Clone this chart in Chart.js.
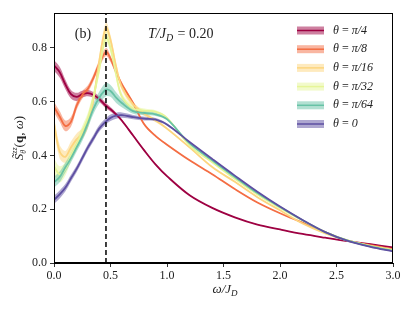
<!DOCTYPE html>
<html><head><meta charset="utf-8">
<script src="https://cdn.jsdelivr.net/npm/chart.js@4"></script>
<style>html,body{margin:0;padding:0;background:#fff}#wrap{width:415px;height:311px}</style>
</head><body><div id="wrap"><canvas id="c" width="415" height="311"></canvas></div>
<script>
const omega = [0,0.05,0.1,0.15,0.2,0.25,0.3,0.35,0.4,0.46,0.5,0.55,0.6,0.7,0.8,0.9,1.0,1.2,1.4,1.6,1.8,2.0,2.2,2.4,2.6,2.8,3.0];
const labels = ["\u03b8 = \u03c0/4","\u03b8 = \u03c0/8","\u03b8 = \u03c0/16","\u03b8 = \u03c0/32","\u03b8 = \u03c0/64","\u03b8 = 0"];
const colors = ["#9e0142","#f46d43","#fdd57e","#e6f598","#66c2a5","#5e4fa2"];
const sPi4  = [0.735,0.71,0.665,0.628,0.618,0.628,0.632,0.625,0.61,0.585,0.572,0.553,0.53,0.474,0.418,0.366,0.323,0.252,0.205,0.17,0.143,0.125,0.108,0.094,0.081,0.07,0.058];
const sPi8  = [0.58,0.545,0.51,0.525,0.585,0.625,0.648,0.69,0.74,0.785,0.76,0.71,0.665,0.595,0.515,0.472,0.44,0.382,0.33,0.275,0.225,0.185,0.15,0.115,0.083,0.066,0.052];
const sPi16 = [0.52,0.415,0.395,0.43,0.46,0.48,0.52,0.61,0.75,0.875,0.83,0.73,0.655,0.59,0.555,0.53,0.5,0.43,0.357,0.302,0.245,0.196,0.147,0.11,0.083,0.064,0.05];
const sPi32 = [0.36,0.33,0.35,0.4,0.44,0.49,0.54,0.62,0.72,0.84,0.8,0.7,0.62,0.575,0.567,0.562,0.54,0.437,0.375,0.313,0.255,0.205,0.158,0.115,0.084,0.063,0.047];
const sPi64 = [0.30,0.32,0.355,0.39,0.43,0.47,0.52,0.575,0.615,0.645,0.64,0.615,0.595,0.565,0.558,0.553,0.535,0.445,0.382,0.32,0.26,0.208,0.159,0.115,0.083,0.062,0.045];
const sZero = [0.235,0.255,0.28,0.315,0.35,0.39,0.43,0.465,0.5,0.527,0.54,0.548,0.55,0.543,0.537,0.533,0.515,0.45,0.387,0.325,0.265,0.21,0.16,0.115,0.082,0.06,0.043];
const ePi4  = [0.02,0.02,0.018,0.016,0.015,0.013,0.012,0.011,0.01,0.01,0.008,0.006,0.005,0.004,0.003,0.002,0.002,0.001,0.001,0.001,0.001,0.001,0.001,0.001,0.001,0.001,0.001];
const ePi8  = [0.02,0.02,0.02,0.018,0.016,0.014,0.013,0.013,0.014,0.015,0.012,0.01,0.008,0.005,0.004,0.003,0.002,0.001,0.001,0.001,0.001,0.001,0.001,0.001,0.001,0.001,0.001];
const ePi16 = [0.025,0.025,0.022,0.022,0.022,0.02,0.02,0.02,0.02,0.02,0.018,0.015,0.012,0.01,0.008,0.006,0.004,0.002,0.001,0.001,0.001,0.001,0.001,0.001,0.001,0.001,0.001];
const ePi32 = [0.03,0.03,0.025,0.022,0.02,0.02,0.02,0.02,0.02,0.02,0.018,0.015,0.012,0.01,0.008,0.006,0.004,0.002,0.001,0.001,0.001,0.001,0.001,0.001,0.001,0.001,0.001];
const ePi64 = [0.02,0.02,0.018,0.016,0.016,0.016,0.018,0.02,0.022,0.025,0.022,0.02,0.016,0.01,0.008,0.006,0.004,0.002,0.001,0.001,0.001,0.001,0.001,0.001,0.001,0.001,0.001];
const eZero = [0.015,0.015,0.014,0.013,0.012,0.012,0.012,0.012,0.012,0.012,0.012,0.011,0.01,0.008,0.007,0.006,0.004,0.002,0.001,0.001,0.001,0.001,0.001,0.001,0.001,0.001,0.001];
const xTicks = [0,0.5,1.0,1.5,2.0,2.5,3.0];
const yTicks = [0,0.2,0.4,0.6,0.8];
const peakOmega = 0.46;
const series = [sPi4,sPi8,sPi16,sPi32,sPi64,sZero];
const errs = [ePi4,ePi8,ePi16,ePi32,ePi64,eZero];

function rgba(hex,a){const n=parseInt(hex.slice(1),16);return `rgba(${n>>16},${(n>>8)&255},${n&255},${a})`;}
const TENSION=0.35;
const datasets=[];
series.forEach((s,i)=>{
  datasets.push({type:'line',label:labels[i],data:omega.map((x,k)=>({x,y:s[k]})),borderColor:colors[i],borderWidth:1.8,pointRadius:0,fill:false,tension:TENSION,order:10-i});
});
series.forEach((s,i)=>{
  datasets.push({type:'line',label:'up'+i,data:omega.map((x,k)=>({x,y:s[k]+errs[i][k]})),borderWidth:0,borderColor:'rgba(0,0,0,0)',backgroundColor:rgba(colors[i],0.5),pointRadius:0,fill:'+1',tension:TENSION,order:40-2*i});
  datasets.push({type:'line',label:'lo'+i,data:omega.map((x,k)=>({x,y:s[k]-errs[i][k]})),borderWidth:0,borderColor:'rgba(0,0,0,0)',pointRadius:0,fill:false,tension:TENSION,order:39-2*i});
});
datasets.push({type:'line',label:'peak',data:[{x:peakOmega,y:0},{x:peakOmega,y:0.93}],borderColor:'#000',borderWidth:1.5,borderDash:[5,3],pointRadius:0,fill:false,order:0});

const SERIF='"Liberation Serif","DejaVu Serif",serif';
const deco={id:'deco',
  afterDraw(ch){
    const c=ch.ctx,a=ch.chartArea;
    c.save();
    c.strokeStyle='#000';c.lineWidth=1;
    c.strokeRect(a.left+0.5,a.top+0.5,a.right-a.left-1,a.bottom-a.top-1);
    c.textBaseline='middle';c.textAlign='left';
    labels.forEach((l,i)=>{
      const y=30.5+i*18.7;
      c.fillStyle=rgba(colors[i],0.5);c.fillRect(297,y-4,27,8);
      c.strokeStyle=colors[i];c.lineWidth=1.5;c.beginPath();c.moveTo(297,y);c.lineTo(324,y);c.stroke();
      c.fillStyle='#222';
      const parts=l.split(' = ');
      c.font='italic 12px '+SERIF;c.fillText(parts[0],333,y);
      let w=c.measureText(parts[0]).width;
      c.font='12px '+SERIF;c.fillText(' = ',333+w,y);
      w+=c.measureText(' = ').width;
      c.font='italic 12px '+SERIF;c.fillText(parts[1],333+w,y);
    });
    c.fillStyle='#222';c.font='14px '+SERIF;c.textAlign='center';c.fillText('(b)',83,34);
    c.textAlign='left';
    let x=148;
    c.font='italic 14px '+SERIF;c.fillText('T/J',x,34);x+=c.measureText('T/J').width;
    c.font='italic 10px '+SERIF;c.fillText('D',x,38);x+=c.measureText('D').width+1;
    c.font='14px '+SERIF;c.fillText(' = 0.20',x,34);
    c.font='italic 13px '+SERIF;
    const t1='\u03c9/J';const w1=c.measureText(t1).width;
    c.font='italic 9px '+SERIF;const w2=c.measureText('D').width;
    let xs=225-(w1+w2)/2;
    c.font='italic 13px '+SERIF;c.fillText(t1,xs,290);
    c.font='italic 9px '+SERIF;c.fillText('D',xs+w1,294);
    c.translate(20,138);c.rotate(-Math.PI/2);
    const segs=[['italic 13px','S\u0303',0],['italic 8px','zz',-5],['italic 8px','\u03b8',4],['13px','(',0],['bold 13px','q',0],['13px',', ',0],['italic 13px','\u03c9',0],['13px',')',0]];
    segs.forEach(s=>{c.font=s[0]+' '+SERIF;s.w=c.measureText(s[1]).width;});
    const tw=segs[0].w+Math.max(segs[1].w,segs[2].w)+segs.slice(3).reduce((p,s)=>p+s.w,0);
    let px=-tw/2;
    c.font=segs[0][0]+' '+SERIF;c.fillText(segs[0][1],px,0);px+=segs[0].w;
    c.font=segs[1][0]+' '+SERIF;c.fillText(segs[1][1],px,-5);
    c.font=segs[2][0]+' '+SERIF;c.fillText(segs[2][1],px,4);
    px+=Math.max(segs[1].w,segs[2].w);
    segs.slice(3).forEach(s=>{c.font=s[0]+' '+SERIF;c.fillText(s[1],px,0);px+=s.w;});
    c.restore();
  }};

new Chart(document.getElementById('c'),{
  data:{datasets},
  options:{responsive:false,animation:false,
    layout:{padding:{left:0,right:22,top:13,bottom:0}},
    plugins:{legend:{display:false},tooltip:{enabled:false}},
    scales:{
      x:{type:'linear',min:0,max:3,
        afterBuildTicks:s=>{s.ticks=xTicks.map(v=>({value:v}));},
        afterFit:s=>{s.height=48;},
        grid:{drawOnChartArea:false,drawTicks:true,tickLength:4,color:'#333'},
        border:{display:true,color:'#000'},
        ticks:{color:'#222',font:{family:SERIF,size:12},padding:2,maxRotation:0,callback:v=>v.toFixed(1)}},
      y:{type:'linear',min:0,max:0.93,
        afterBuildTicks:s=>{s.ticks=yTicks.map(v=>({value:v}));},
        afterFit:s=>{s.width=54;},
        grid:{drawOnChartArea:false,drawTicks:true,tickLength:4,color:'#333'},
        border:{display:true,color:'#000'},
        ticks:{color:'#222',font:{family:SERIF,size:12},padding:3,callback:v=>v.toFixed(1)}}
    }},
  plugins:[deco]
});
</script></body></html>
